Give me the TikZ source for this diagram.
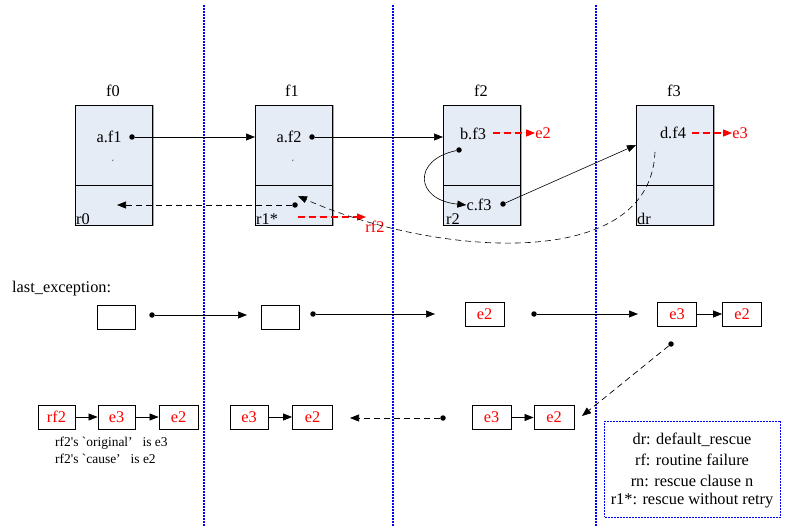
\documentclass[tikz,border=0pt]{standalone}
\usepackage{fontspec}
\setmainfont{Liberation Serif}
\usetikzlibrary{arrows.meta}
\definecolor{boxfill}{HTML}{E6ECF6}
\definecolor{sepblue}{HTML}{0000FF}
\definecolor{myred}{HTML}{FF0000}
\begin{document}
\begin{tikzpicture}[x=1bp,y=-1bp,
  every node/.style={font=\fontsize{16.4}{18}\selectfont, inner sep=0pt},
  frame/.style={draw, fill=boxfill, line width=0.8bp, minimum width=77bp, minimum height=120bp, anchor=north west},
  ebox/.style={draw, line width=0.8bp, minimum width=39bp, minimum height=24bp, text=myred},
  wbox/.style={draw, line width=0.8bp, minimum width=38bp, minimum height=24bp},
  dotn/.style={circle, fill=black, minimum size=5.5bp, inner sep=0pt},
  arr/.style={-{Triangle[length=9bp,width=7bp]}, line width=0.7bp},
  darr/.style={arr, dash pattern=on 6bp off 4bp},
  rarr/.style={-{Triangle[length=9bp,width=7bp]}, draw=myred, fill=myred, line width=1.1bp, dash pattern=on 7bp off 4bp},
  sep/.style={draw=sepblue, line width=1.2bp, dash pattern=on 2bp off 1bp},
  tick/.style={font=\fontsize{7}{8}\selectfont},
  small/.style={font=\fontsize{13.5}{15}\selectfont, anchor=west}
]
\useasboundingbox (0,0) rectangle (786,526);
\fill[white] (0,0) rectangle (786,526);

% separators
\coordinate (s1t) at (204,5); \coordinate (s1b) at (204,526);
\coordinate (s2t) at (393,5); \coordinate (s2b) at (393,526);
\coordinate (s3t) at (596,5); \coordinate (s3b) at (596,526);
\draw[sep] (s1t) -- (s1b);
\draw[sep] (s2t) -- (s2b);
\draw[sep] (s3t) -- (s3b);

% frames
\node[frame] (F0) at (75,105) {};
\node[frame] (F1) at (255,105) {};
\node[frame] (F2) at (443,105) {};
\node[frame] (F3) at (636,105) {};
\foreach \f in {F0,F1,F2,F3}{
  \draw[line width=0.8bp] (\f.west |- 0,185) -- (\f.east |- 0,185);
  \draw[gray!70, line width=1bp] ([xshift=1bp]\f.north east) -- ([xshift=1bp]\f.south east);
}
\node (L0) at (113,91) {f0};
\node (L1) at (292,91) {f1};
\node (L2) at (481,91) {f2};
\node (L3) at (674,91) {f3};

% f0
\node (a1) at (109,137) {a.f1};
\node[dotn] (d0) at (132,137) {};
\node[tick] (k0) at (113,162) {`};
\node[anchor=base west] (r0) at (76,225) {r0};
% f1
\node (a2) at (289,137) {a.f2};
\node[dotn] (d1) at (312,137) {};
\node[tick] (k1) at (293,162) {`};
\node[anchor=base west] (r1) at (256,225) {r1*};
\node[dotn] (d1r) at (295,205) {};
\coordinate (t0) at (117,205);
\coordinate (rs) at (298,217);
\coordinate (rt) at (366,217);
\node[text=myred] (rf2l) at (375,227) {rf2};
% f2
\node (b3) at (473,134) {b.f3};
\node[text=myred] (e2a) at (543,133) {e2};
\node[dotn] (d2) at (459,150) {};
\node (c3) at (479,205) {c.f3};
\node[dotn] (d2c) at (503,204) {};
\node[anchor=base west] (r2) at (446,225) {r2};
% f3
\node (d4) at (673,133) {d.f4};
\node[text=myred] (e3a) at (740,133) {e3};
\coordinate (d3s) at (655,152);
\node[anchor=base west] (dr) at (637,225) {dr};

% connectors top
\draw[arr] (d0) -- (F1.west |- d0);
\draw[arr] (d1) -- (F2.west |- d1);
\draw[darr] (d1r) -- (t0);
\draw[rarr] (rs) -- (rt);
\coordinate (b3e) at (493,133);
\draw[rarr] (b3e) -- (e2a.west);
\coordinate (d4e) at (692,133);
\draw[rarr] (d4e) -- (e3a.west);
\draw[arr, line width=0.6bp] (d2) .. controls (412,160) and (415,200) .. (c3.west);
\draw[arr, line width=0.6bp] (d2c) -- (F3.west |- 0,145);
\coordinate (t1) at (298,196);
\draw[darr, line width=0.6bp] (d3s) .. controls (650,275) and (430,255) .. (t1);

% last_exception row
\node[anchor=west] (le) at (12,289) {last\_exception:};
\node[wbox] (b1) at (116.5,317) {};
\node[dotn] (q1) at (152,315) {};
\coordinate (q1t) at (247,315);
\node[wbox] (b2) at (280,317) {};
\node[dotn] (q2) at (313,314) {};
\coordinate (q2t) at (435,314);
\node[ebox] (x1) at (484.5,314) {e2};
\node[dotn] (q3) at (534,314) {};
\coordinate (q3t) at (638,314);
\node[ebox] (x2) at (677,314) {e3};
\node[ebox] (x3) at (742,314) {e2};
\draw[arr] (q1) -- (q1t);
\draw[arr] (q2) -- (q2t);
\draw[arr] (q3) -- (q3t);
\draw[arr] (x2) -- (x3);

% bottom row
\node[ebox, minimum width=37bp] (y1) at (56.5,417) {rf2};
\node[ebox, minimum width=37bp] (y2) at (116.5,417) {e3};
\node[ebox] (y3) at (178.5,417) {e2};
\draw[arr] (y1) -- (y2);
\draw[arr] (y2) -- (y3);
\node[small] (n1) at (55,443) {rf2\textquotesingle s \textasciigrave original’\hspace{10pt}is e3};
\node[small] (n2) at (55,459) {rf2\textquotesingle s \textasciigrave cause’\hspace{10pt}is e2};

\node[ebox, minimum width=38bp] (z1) at (249,417) {e3};
\node[ebox, minimum width=40bp] (z2) at (312.5,417) {e2};
\draw[arr] (z1) -- (z2);
\node[dotn] (p1) at (443,418) {};
\coordinate (p1t) at (350,418);
\draw[darr] (p1) -- (p1t);

\node[ebox] (w1) at (491.5,417.5) {e3};
\node[ebox, minimum width=40bp] (w2) at (554,417.5) {e2};
\draw[arr] (w1) -- (w2);
\node[dotn] (p2) at (671,344) {};
\coordinate (p2t) at (582,416);
\draw[darr] (p2) -- (p2t);

% legend
\node[draw=sepblue, line width=1bp, dash pattern=on 2bp off 1bp, minimum width=176bp, minimum height=96bp] (leg) at (692.5,469) {};
\node (g1) at (692,440) {dr: default\_rescue};
\node (g2) at (692,460) {rf: routine failure};
\node (g3) at (692,481) {rn: rescue clause n};
\node (g4) at (692,501) {r1*: rescue without retry};
\end{tikzpicture}
\end{document}
